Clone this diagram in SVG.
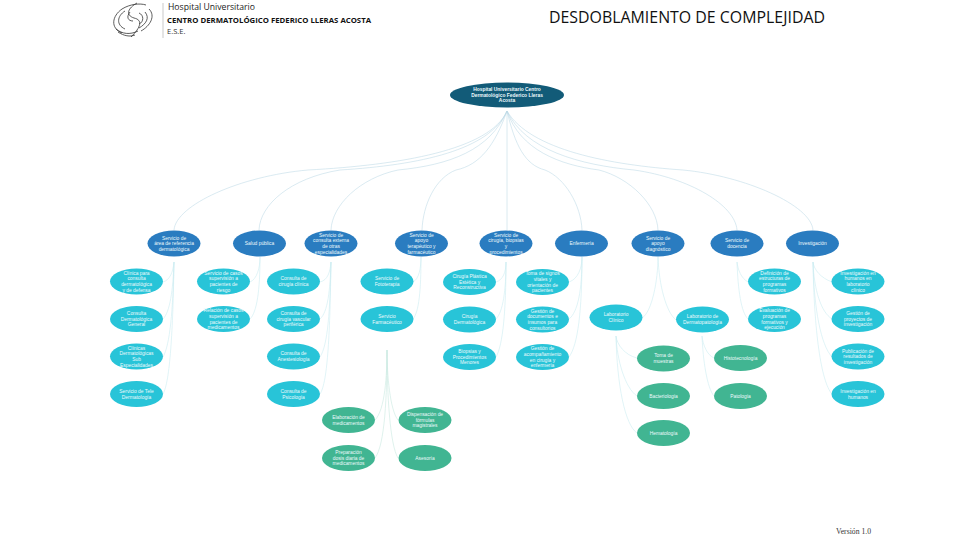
<svg xmlns="http://www.w3.org/2000/svg" width="960" height="540" viewBox="0 0 960 540">
<style>
text{font-family:"Open Sans","Liberation Sans",sans-serif}
.n text{font-family:"Liberation Sans",Arial,sans-serif;font-size:4.9px;fill:#eefafc;text-anchor:middle}
.r{fill:#125b78}.b{fill:#2a7cc0}.c{fill:#28c4d8}.g{fill:#41b592}
#connectors path{fill:none;stroke-width:.55}
.t{stroke:#bcd8e6}.l{stroke:#c8ebf1}.m{stroke:#c4e8de}
</style>
<rect width="960" height="540" fill="#fff"/>
<g id="logo" fill="none" stroke="#333" stroke-width=".8">
<path d="M122 33C110 28 112 16 122 9C130 4 140 3 146 5M149 9C156 16 150 26 141 31"/>
<path d="M125 29C116 25 117 16 125 11M145 12C150 18 146 24 139 28"/>
<path d="M137 3C128 8 125 15 134 18C143 20 141 27 131 37"/>
<path d="M130 12C126 17 128 21 133 21M139 24C144 22 144 15 139 13"/>
<path d="M116 29C122 34 130 35 138 31M118 32C124 36 130 37 135 35"/>
</g>
<path d="M163 3V38" stroke="#bbb" stroke-width=".8"/>
<g id="header">
<text x="168" y="10" font-size="9.5" fill="#222" textLength="87" lengthAdjust="spacingAndGlyphs">Hospital Universitario</text>
<text x="167" y="23" font-size="7.6" font-weight="700" fill="#111" textLength="204" lengthAdjust="spacingAndGlyphs">CENTRO DERMATOLÓGICO FEDERICO LLERAS ACOSTA</text>
<text x="167" y="34" font-size="7.5" fill="#333">E.S.E.</text>
<text x="549" y="23" font-size="16.5" fill="#111" textLength="276" lengthAdjust="spacingAndGlyphs">DESDOBLAMIENTO DE COMPLEJIDAD</text>
<text x="836" y="534" font-size="7.5" fill="#333" style="font-family:'Liberation Serif',serif" textLength="35" lengthAdjust="spacingAndGlyphs">Versión 1.0</text>
</g>
<g id="connectors">
<path class="t" d="M507 111C490 150 400 165 308 170C240 176 176 205 174 230"/>
<path class="t" d="M507 111C490 150 420 165 340 170C290 178 260 205 259 230"/>
<path class="t" d="M507 111C490 150 450 165 398 170C360 178 332 205 331 230"/>
<path class="t" d="M507 111C495 145 480 165 456 170C435 178 423 205 422 230"/>
<path class="t" d="M507 111V230"/>
<path class="t" d="M507 111C515 145 525 165 545 170C565 178 581 205 582 230"/>
<path class="t" d="M507 111C520 150 560 165 599 170C630 178 657 205 658 230"/>
<path class="t" d="M507 111C525 150 580 165 634 170C690 178 735 205 737 230"/>
<path class="t" d="M507 111C530 150 610 165 683 170C745 176 811 205 813 230"/>
<path class="l" d="M174 262C173 272 170 280 163 282"/>
<path class="l" d="M174 262C173 290 170 312 163 319"/>
<path class="l" d="M174 262C173 310 170 345 163 357"/>
<path class="l" d="M174 262C173 330 170 382 163 394"/>
<path class="l" d="M260 257C260 268 257 279 250 282"/>
<path class="l" d="M260 257C260 290 257 312 250 319"/>
<path class="l" d="M331 262C330 272 328 280 320 282"/>
<path class="l" d="M331 262C330 290 328 312 320 319"/>
<path class="l" d="M331 262C330 310 328 345 320 357"/>
<path class="l" d="M331 262C330 330 328 382 320 394"/>
<path class="l" d="M421 257C421 268 419 279 413 282"/>
<path class="l" d="M421 257C421 290 419 312 413 319"/>
<path class="l" d="M506 262C506 272 503 280 496 282"/>
<path class="l" d="M506 262C506 290 503 312 496 319"/>
<path class="l" d="M506 262C506 310 503 345 496 357"/>
<path class="l" d="M582 257C582 268 578 279 569 282"/>
<path class="l" d="M582 257C582 290 578 312 569 319"/>
<path class="l" d="M582 257C582 310 578 345 569 357"/>
<path class="l" d="M658 257C658 280 652 312 642 318"/>
<path class="l" d="M658 257C659 285 666 312 676 320"/>
<path class="l" d="M737 262C738 270 741 278 748 282"/>
<path class="l" d="M737 262C738 290 741 312 748 319"/>
<path class="l" d="M813 262C814 270 821 278 832 282"/>
<path class="l" d="M813 262C814 290 821 312 832 319"/>
<path class="l" d="M813 262C814 310 821 345 832 357"/>
<path class="l" d="M813 262C814 330 821 382 832 394"/>
<path class="l" d="M616 336C617 345 625 355 637 358"/>
<path class="l" d="M616 336C617 360 625 388 637 396"/>
<path class="l" d="M616 336C617 385 625 425 637 433"/>
<path class="l" d="M702 336C703 345 707 355 714 358"/>
<path class="l" d="M702 336C703 360 707 388 714 396"/>
<path class="m" d="M387 350C387 375 385 410 375 420"/>
<path class="m" d="M387 350C387 395 385 445 375 458"/>
<path class="m" d="M387 350C387 375 390 410 398 420"/>
<path class="m" d="M387 350C387 395 390 445 398 458"/>
</g>
<g class="n">
<g id="root" transform="translate(507 95)"><ellipse class="r" rx="57" ry="12.5"/><text y="-4" font-weight="700">Hospital Universitario Centro</text><text y="1.7" font-weight="700">Dermatológico Federico Lleras</text><text y="7.4" font-weight="700">Acosta</text></g>
<g id="s1" transform="translate(174 243.5)"><ellipse class="b" rx="26.5" ry="13"/><text y="-4">Servicio de</text><text y="1.7">área de referencia</text><text y="7.4">dermatológica</text></g>
<g id="s2" transform="translate(259.5 243.5)"><ellipse class="b" rx="26.5" ry="13"/><text y="1.7">Salud pública</text></g>
<g id="s3" transform="translate(331 243.5)"><ellipse class="b" rx="26.5" ry="13"/><text y="-6.85">Servicio de</text><text y="-1.15">consulta externa</text><text y="4.55">de otras</text><text y="10.25">especialidades</text></g>
<g id="s4" transform="translate(421.5 243.5)"><ellipse class="b" rx="26.5" ry="13"/><text y="-6.85">Servicio de</text><text y="-1.15">apoyo</text><text y="4.55">terapéutico y</text><text y="10.25">farmacéutico</text></g>
<g id="s5" transform="translate(506 243.5)"><ellipse class="b" rx="26.5" ry="13"/><text y="-6.85">Servicio de</text><text y="-1.15">cirugía, biopsias</text><text y="4.55">y</text><text y="10.25">procedimientos</text></g>
<g id="s6" transform="translate(581.5 243.5)"><ellipse class="b" rx="26.5" ry="13"/><text y="1.7">Enfermería</text></g>
<g id="s7" transform="translate(658 243.5)"><ellipse class="b" rx="26.5" ry="13"/><text y="-4">Servicio de</text><text y="1.7">apoyo</text><text y="7.4">diagnóstico</text></g>
<g id="s8" transform="translate(737 243.5)"><ellipse class="b" rx="26.5" ry="13"/><text y="-1.15">Servicio de</text><text y="4.55">docencia</text></g>
<g id="s9" transform="translate(812.5 243.5)"><ellipse class="b" rx="26.5" ry="13"/><text y="1.7">Investigación</text></g>

<g id="a1" transform="translate(136.5 281.5)"><ellipse class="c" rx="26.5" ry="13"/><text y="-6.85">Clínica para</text><text y="-1.15">consulta</text><text y="4.55">dermatológica</text><text y="10.25">y de defensa</text></g>
<g id="a2" transform="translate(136.5 319)"><ellipse class="c" rx="26.5" ry="13"/><text y="-4">Consulta</text><text y="1.7">Dermatológica</text><text y="7.4">General</text></g>
<g id="a3" transform="translate(136.5 356.5)"><ellipse class="c" rx="26.5" ry="13"/><text y="-6.85">Clínicas</text><text y="-1.15">Dermatológicas</text><text y="4.55">Sub</text><text y="10.25">Especialidades</text></g>
<g id="a4" transform="translate(136.5 394)"><ellipse class="c" rx="26.5" ry="13"/><text y="-1.15">Servicio de Tele</text><text y="4.55">Dermatología</text></g>
<g id="b1" transform="translate(223.5 281.5)"><ellipse class="c" rx="26.5" ry="13"/><text y="-6.85">Servicio de casos</text><text y="-1.15">supervisión a</text><text y="4.55">pacientes de</text><text y="10.25">riesgo</text></g>
<g id="b2" transform="translate(223.5 319)"><ellipse class="c" rx="26.5" ry="13"/><text y="-6.85">Relación de casos</text><text y="-1.15">supervisión a</text><text y="4.55">pacientes de</text><text y="10.25">medicamentos</text></g>
<g id="c1" transform="translate(293.5 281.5)"><ellipse class="c" rx="26.5" ry="13"/><text y="-1.15">Consulta de</text><text y="4.55">cirugía clínica</text></g>
<g id="c2" transform="translate(293.5 319)"><ellipse class="c" rx="26.5" ry="13"/><text y="-4">Consulta de</text><text y="1.7">cirugía vascular</text><text y="7.4">periférica</text></g>
<g id="c3" transform="translate(293.5 356.5)"><ellipse class="c" rx="26.5" ry="13"/><text y="-1.15">Consulta de</text><text y="4.55">Anestesiología</text></g>
<g id="c4" transform="translate(293.5 394)"><ellipse class="c" rx="26.5" ry="13"/><text y="-1.15">Consulta de</text><text y="4.55">Psicología</text></g>
<g id="d1" transform="translate(387 281.5)"><ellipse class="c" rx="26.5" ry="13"/><text y="-1.15">Servicio de</text><text y="4.55">Fototerapia</text></g>
<g id="d2" transform="translate(387 319)"><ellipse class="c" rx="26.5" ry="13"/><text y="-1.15">Servicio</text><text y="4.55">Farmacéutico</text></g>
<g id="e1" transform="translate(469.5 282)"><ellipse class="c" rx="26.5" ry="13"/><text y="-4">Cirugía Plástica</text><text y="1.7">Estética y</text><text y="7.4">Reconstructiva</text></g>
<g id="e2" transform="translate(469.5 319.5)"><ellipse class="c" rx="26.5" ry="13"/><text y="-1.15">Cirugía</text><text y="4.55">Dermatológica</text></g>
<g id="e3" transform="translate(469.5 357)"><ellipse class="c" rx="26.5" ry="13"/><text y="-4">Biopsias y</text><text y="1.7">Procedimientos</text><text y="7.4">Menores</text></g>
<g id="f1" transform="translate(542.5 282)"><ellipse class="c" rx="26.5" ry="13"/><text y="-6.85">Toma de signos</text><text y="-1.15">vitales y</text><text y="4.55">orientación de</text><text y="10.25">pacientes</text></g>
<g id="f2" transform="translate(542.5 319.5)"><ellipse class="c" rx="26.5" ry="13"/><text y="-6.85">Gestión de</text><text y="-1.15">documentos e</text><text y="4.55">insumos para</text><text y="10.25">consultorios</text></g>
<g id="f3" transform="translate(542.5 357)"><ellipse class="c" rx="26.5" ry="13"/><text y="-6.85">Gestión de</text><text y="-1.15">acompañamiento</text><text y="4.55">en cirugía y</text><text y="10.25">enfermería</text></g>
<g id="g1" transform="translate(616 317.5)"><ellipse class="c" rx="26.5" ry="13"/><text y="-1.15">Laboratorio</text><text y="4.55">Clínico</text></g>
<g id="g2" transform="translate(702.5 319.5)"><ellipse class="c" rx="26.5" ry="13"/><text y="-1.15">Laboratorio de</text><text y="4.55">Dermatopatología</text></g>
<g id="h1" transform="translate(774.5 281.5)"><ellipse class="c" rx="26.5" ry="13"/><text y="-6.85">Definición de</text><text y="-1.15">estructuras de</text><text y="4.55">programas</text><text y="10.25">formativos</text></g>
<g id="h2" transform="translate(774.5 319)"><ellipse class="c" rx="26.5" ry="13"/><text y="-6.85">Evaluación de</text><text y="-1.15">programas</text><text y="4.55">formativos y</text><text y="10.25">ejecución</text></g>
<g id="i1" transform="translate(858 281.5)"><ellipse class="c" rx="26.5" ry="13"/><text y="-6.85">Investigación en</text><text y="-1.15">humanos en</text><text y="4.55">laboratorio</text><text y="10.25">clínico</text></g>
<g id="i2" transform="translate(858 319)"><ellipse class="c" rx="26.5" ry="13"/><text y="-4">Gestión de</text><text y="1.7">proyectos de</text><text y="7.4">investigación</text></g>
<g id="i3" transform="translate(858 356.5)"><ellipse class="c" rx="26.5" ry="13"/><text y="-4">Publicación de</text><text y="1.7">resultados de</text><text y="7.4">investigación</text></g>
<g id="i4" transform="translate(858 394)"><ellipse class="c" rx="26.5" ry="13"/><text y="-1.15">Investigación en</text><text y="4.55">humanos</text></g>

<g id="j1" transform="translate(663.5 358.5)"><ellipse class="g" rx="26.5" ry="13"/><text y="-1.15">Toma de</text><text y="4.55">muestras</text></g>
<g id="j2" transform="translate(663.5 396)"><ellipse class="g" rx="26.5" ry="13"/><text y="1.7">Bacteriología</text></g>
<g id="j3" transform="translate(663.5 433)"><ellipse class="g" rx="26.5" ry="13"/><text y="1.7">Hematología</text></g>
<g id="k1" transform="translate(740.5 358)"><ellipse class="g" rx="26.5" ry="13"/><text y="1.7">Histotecnología</text></g>
<g id="k2" transform="translate(740.5 396)"><ellipse class="g" rx="26.5" ry="13"/><text y="1.7">Patología</text></g>
<g id="m1" transform="translate(348.5 420)"><ellipse class="g" rx="26.5" ry="13"/><text y="-1.15">Elaboración de</text><text y="4.55">medicamentos</text></g>
<g id="m2" transform="translate(348.5 458)"><ellipse class="g" rx="26.5" ry="13"/><text y="-4">Preparación</text><text y="1.7">dosis diaria de</text><text y="7.4">medicamentos</text></g>
<g id="m3" transform="translate(425 420)"><ellipse class="g" rx="26.5" ry="13"/><text y="-4">Dispensación de</text><text y="1.7">fórmulas</text><text y="7.4">magistrales</text></g>
<g id="m4" transform="translate(425 458)"><ellipse class="g" rx="26.5" ry="13"/><text y="1.7">Asesoría</text></g>
</g>
</svg>
